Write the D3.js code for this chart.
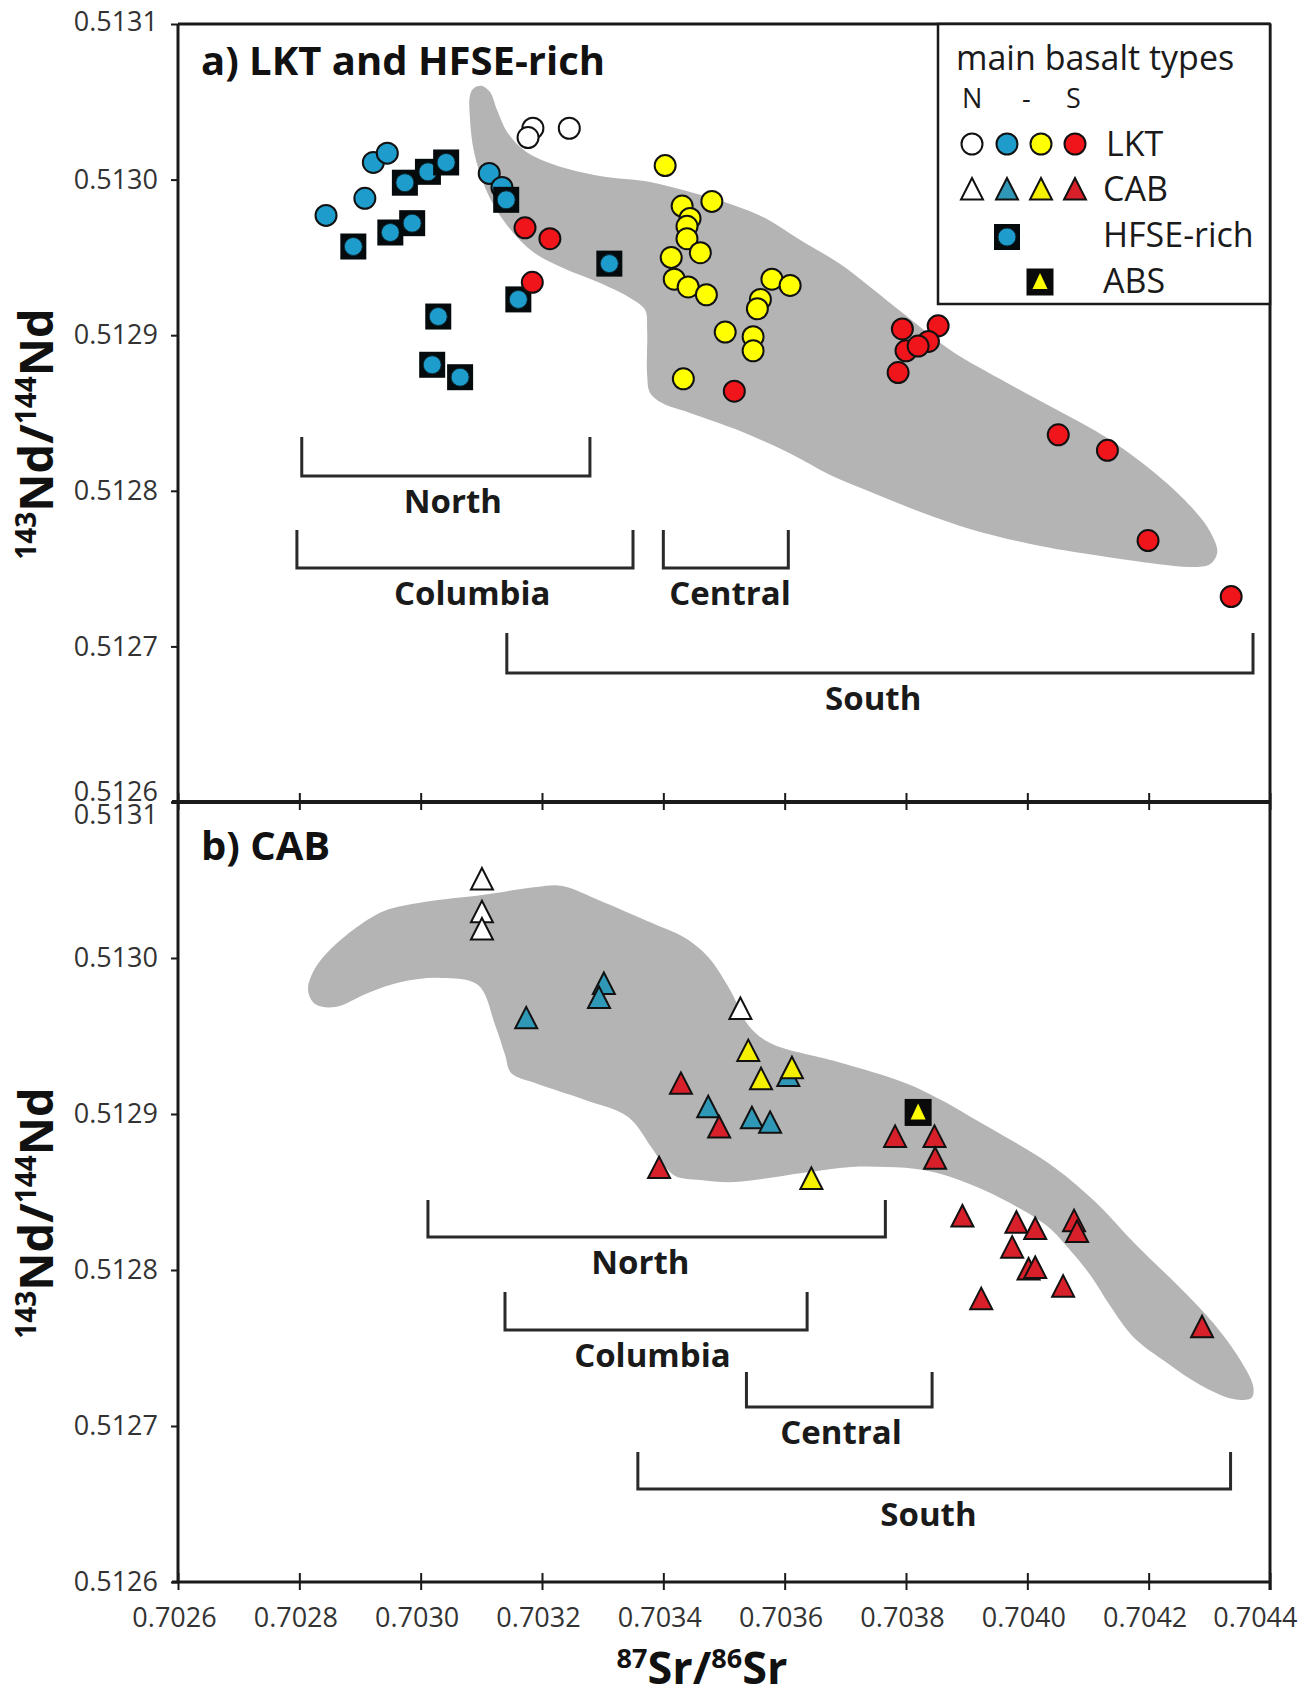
<!DOCTYPE html>
<html><head><meta charset="utf-8">
<script src="https://cdn.jsdelivr.net/npm/d3@7"></script>
<style>html,body{margin:0;padding:0;background:#fff;} svg{display:block;}</style>
</head><body><svg id="c" width="1303" height="1697"></svg>
<script>
// ---------------- DATA ----------------
const xTicks = [0.7026,0.7028,0.7030,0.7032,0.7034,0.7036,0.7038,0.7040,0.7042,0.7044];
const yTicks = [0.5126,0.5127,0.5128,0.5129,0.5130,0.5131];

// Panel a: LKT and HFSE-rich  [87Sr/86Sr, 143Nd/144Nd]
const lktWhite = [[0.703185,0.513033],[0.703177,0.513027],[0.703245,0.513033]];
const lktBlue = [[0.702844,0.512977],[0.702908,0.512988],[0.702922,0.513011],[0.702945,0.513017],[0.703113,0.513004],[0.703134,0.512995]];
const hfseRich = [[0.702889,0.512957],[0.702950,0.512966],[0.702986,0.512972],[0.702974,0.512998],[0.703012,0.513005],[0.703042,0.513011],[0.703141,0.512987],[0.703311,0.512946],[0.703161,0.512923],[0.703029,0.512912],[0.703019,0.512881],[0.703065,0.512873]];
const lktYellow = [[0.703403,0.513009],[0.703431,0.512983],[0.703480,0.512986],[0.703444,0.512975],[0.703439,0.512970],[0.703439,0.512962],[0.703461,0.512953],[0.703413,0.512950],[0.703418,0.512936],[0.703441,0.512931],[0.703471,0.512926],[0.703579,0.512936],[0.703609,0.512932],[0.703560,0.512923],[0.703555,0.512917],[0.703502,0.512902],[0.703548,0.512899],[0.703548,0.512890],[0.703433,0.512872]];
const lktRed = [[0.703172,0.512969],[0.703213,0.512962],[0.703184,0.512934],[0.703517,0.512864],[0.703794,0.512904],[0.703853,0.512906],[0.703837,0.512896],[0.703800,0.512890],[0.703787,0.512876],[0.703820,0.512893],[0.704051,0.512836],[0.704132,0.512826],[0.704199,0.512768],[0.704336,0.512732]];
const fieldA = [[0.7030814,0.5130544],[0.703088,0.5130589],[0.7031012,0.5130602],[0.7031144,0.5130563],[0.703126,0.5130447],[0.7031425,0.5130306],[0.7031721,0.5130184],[0.7032216,0.5130094],[0.7032958,0.5130023],[0.7033782,0.5129985],[0.7034442,0.512992],[0.7035151,0.5129837],[0.7035678,0.5129753],[0.7036256,0.5129612],[0.7036915,0.5129458],[0.703741,0.512931],[0.7037987,0.512913],[0.7038729,0.5128905],[0.7039669,0.5128693],[0.7040493,0.5128519],[0.7041317,0.5128339],[0.7042142,0.5128102],[0.7042719,0.5127889],[0.7043016,0.5127735],[0.7043131,0.5127607],[0.7043016,0.512753],[0.7042719,0.512751],[0.7042142,0.512753],[0.7041317,0.5127575],[0.7040213,0.5127645],[0.7039108,0.5127748],[0.7038284,0.5127857],[0.7037459,0.5127986],[0.703675,0.5128102],[0.7036074,0.5128243],[0.7035266,0.5128384],[0.7034442,0.51285],[0.703398,0.5128564],[0.7033782,0.5128629],[0.7033733,0.5128744],[0.7033733,0.5129033],[0.70337,0.5129162],[0.7033453,0.5129239],[0.7032958,0.5129335],[0.7032348,0.5129432],[0.7031853,0.5129535],[0.7031408,0.5129715],[0.7031078,0.5129933],[0.703088,0.5130177],[0.7030814,0.5130383]];

// Panel b: CAB
const cabWhite = [[0.703101,0.513050],[0.703101,0.513029],[0.703101,0.513018],[0.703527,0.512967]];
const cabBlue = [[0.703174,0.512961],[0.703302,0.512983],[0.703294,0.512974],[0.703474,0.512904],[0.703546,0.512897],[0.703576,0.512894],[0.703606,0.512924]];
const cabYellow = [[0.703540,0.512940],[0.703561,0.512922],[0.703612,0.512929],[0.703644,0.512858]];
const cabRed = [[0.703429,0.512919],[0.703492,0.512891],[0.703393,0.512865],[0.703782,0.512885],[0.703847,0.512885],[0.703848,0.512871],[0.703893,0.512834],[0.703982,0.512830],[0.704013,0.512826],[0.704077,0.512831],[0.704082,0.512824],[0.703975,0.512814],[0.704002,0.512800],[0.704013,0.512801],[0.704059,0.512789],[0.703924,0.512781],[0.704288,0.512763]];
const absPoints = [[0.703820,0.512901]];
const fieldB = [[0.7028143,0.5129795],[0.7028226,0.512991],[0.7028424,0.5130019],[0.7028885,0.5130179],[0.7029397,0.5130301],[0.7030056,0.5130359],[0.7031012,0.5130404],[0.7031903,0.5130455],[0.7032331,0.5130462],[0.7033007,0.5130359],[0.7033733,0.5130237],[0.7034359,0.5130128],[0.7034739,0.5130006],[0.7035101,0.5129795],[0.7035398,0.5129571],[0.7035761,0.5129455],[0.7036882,0.5129333],[0.7037987,0.5129199],[0.703858,0.512909],[0.703924,0.5128942],[0.7040345,0.5128686],[0.7041087,0.5128449],[0.7041828,0.5128147],[0.7042521,0.5127885],[0.7043065,0.512766],[0.704351,0.5127423],[0.7043725,0.512725],[0.7043692,0.5127179],[0.7043395,0.5127173],[0.7042851,0.5127263],[0.7042307,0.5127404],[0.7041746,0.5127571],[0.7041367,0.5127769],[0.7041037,0.5127968],[0.7040674,0.5128141],[0.7040345,0.5128276],[0.7039619,0.5128449],[0.7038877,0.5128577],[0.7038284,0.5128641],[0.703769,0.512866],[0.7037096,0.512866],[0.7036289,0.5128622],[0.7035184,0.5128564],[0.7034607,0.5128577],[0.7034195,0.5128603],[0.7033947,0.5128705],[0.7033799,0.5128788],[0.703342,0.5128981],[0.7032711,0.512909],[0.7031886,0.5129199],[0.7031491,0.5129263],[0.7031392,0.5129378],[0.7031227,0.5129571],[0.7030946,0.5129827],[0.7030336,0.5129872],[0.7029677,0.5129846],[0.7029133,0.5129776],[0.7028589,0.5129686],[0.7028259,0.5129705]];

// Region brackets [label, Sr from, Sr to, Nd top, Nd bottom, Sr of label centre]
const regionsA = [["North",0.702804,0.703279,0.5128346,0.5128095,0.703053],["Columbia",0.702796,0.703350,0.5127748,0.5127504,0.703085],["Central",0.703400,0.703606,0.5127748,0.5127504,0.703510],["South",0.703142,0.704372,0.5127086,0.5126829,0.703746]];
const regionsB = [["North",0.703012,0.703766,0.5128449,0.5128212,0.703362],["Columbia",0.703139,0.703637,0.5127859,0.5127615,0.703382],["Central",0.703537,0.703843,0.5127346,0.5127122,0.703693],["South",0.703358,0.704335,0.5126833,0.5126596,0.703837]];

const panelTitles = ["a) LKT and HFSE-rich","b) CAB"];
const legendTitle = "main basalt types";
const legendNS = ["N","-","S"];
const legendRows = ["LKT","CAB","HFSE-rich","ABS"];

// ---------------- STYLE ----------------
const FONT = "'Open Sans','DejaVu Sans',sans-serif";
const C = {white:"#ffffff", blue:"#1e9dcc", blueT:"#2f98b6", yellow:"#ffff00", yellowT:"#f4f000", red:"#f0141b", redT:"#d7202a", gray:"#b4b4b4", ink:"#111"};

const svg = d3.select("#c");
const x = d3.scaleLinear().domain([0.7026,0.7044]).range([178,1270]);
const yA = d3.scaleLinear().domain([0.5126,0.5131]).range([802,24]);
const yB = d3.scaleLinear().domain([0.5126,0.5131]).range([1582,802]);

// fields
function field(data, y){
  const line = d3.line().x(d=>x(d[0])).y(d=>y(d[1])).curve(d3.curveCatmullRomClosed.alpha(0.5));
  svg.append("path").attr("d", line(data)).attr("fill", C.gray).attr("stroke","none");
}
field(fieldA, yA);
field(fieldB, yB);

// brackets
function brackets(data, y){
  const g = svg.append("g");
  data.forEach(r=>{
    const x0=x(r[1]), x1=x(r[2]), yt=y(r[3]), yb=y(r[4]);
    g.append("path").attr("d",`M${x0},${yt}V${yb}H${x1}V${yt}`).attr("fill","none").attr("stroke","#2a2a2a").attr("stroke-width",3);
    g.append("text").attr("x",x(r[5])).attr("y",yb+37).attr("text-anchor","middle")
      .attr("font-family",FONT).attr("font-weight",700).attr("font-size",33).attr("fill","#1a1a1a").text(r[0]);
  });
}
brackets(regionsA, yA);
brackets(regionsB, yB);

// markers
const triPath = "M0,-12L11,9.5L-11,9.5Z";
function circles(data, y, fill){
  svg.append("g").selectAll("circle").data(data).join("circle")
    .attr("cx",d=>x(d[0])).attr("cy",d=>y(d[1])).attr("r",10.5)
    .attr("fill",fill).attr("stroke",C.ink).attr("stroke-width",2);
}
function triangles(data, y, fill){
  svg.append("g").selectAll("path").data(data).join("path")
    .attr("d",triPath).attr("transform",d=>`translate(${x(d[0])},${y(d[1])})`)
    .attr("fill",fill).attr("stroke",C.ink).attr("stroke-width",2).attr("stroke-linejoin","miter");
}
function hfse(g, cx, cy){
  g.append("rect").attr("x",cx-13).attr("y",cy-13).attr("width",26).attr("height",26).attr("fill","#050a0c");
  g.append("circle").attr("cx",cx).attr("cy",cy).attr("r",9).attr("fill",C.blue).attr("stroke","#0b2a36").attr("stroke-width",1);
}
function abs(g, cx, cy){
  g.append("rect").attr("x",cx-13.5).attr("y",cy-13.5).attr("width",27).attr("height",27).attr("fill","#0a0a0a");
  g.append("path").attr("d","M0,-9L7.5,7L-7.5,7Z").attr("transform",`translate(${cx},${cy})`).attr("fill",C.yellow);
}

circles(lktWhite, yA, C.white);
circles(lktBlue, yA, C.blue);
{ const g = svg.append("g"); hfseRich.forEach(d=>hfse(g, x(d[0]), yA(d[1]))); }
circles(lktYellow, yA, C.yellow);
circles(lktRed, yA, C.red);

triangles(cabWhite, yB, C.white);
triangles(cabBlue, yB, C.blueT);
triangles(cabYellow, yB, C.yellowT);
triangles(cabRed, yB, C.redT);
{ const g = svg.append("g"); absPoints.forEach(d=>abs(g, x(d[0]), yB(d[1]))); }

// frame lines
const [xl, xr] = x.range();
const frame = svg.append("g").attr("stroke","#1a1a1a").attr("fill","none");
frame.append("line").attr("x1",xl).attr("x2",xl).attr("y1",yA.range()[1]).attr("y2",yB.range()[0]).attr("stroke-width",3);
frame.append("line").attr("x1",xr).attr("x2",xr).attr("y1",yA.range()[1]).attr("y2",yB.range()[0]+8).attr("stroke-width",3);
frame.append("line").attr("x1",xl).attr("x2",xr).attr("y1",yA.range()[1]).attr("y2",yA.range()[1]).attr("stroke-width",3);
frame.append("line").attr("x1",xl-6).attr("x2",xr).attr("y1",yA.range()[0]).attr("y2",yA.range()[0]).attr("stroke-width",4);
frame.append("line").attr("x1",xl-6).attr("x2",xr).attr("y1",yB.range()[0]).attr("y2",yB.range()[0]).attr("stroke-width",3);

// y axes
function yAxis(scale, shiftFn){
  const g = svg.append("g").attr("transform",`translate(${xl},0)`)
    .call(d3.axisLeft(scale).tickValues(yTicks).tickSize(7).tickSizeOuter(0).tickPadding(13).tickFormat(d3.format(".4f")));
  g.attr("font-family",FONT).attr("font-size",27);
  g.select(".domain").remove();
  g.selectAll(".tick line").attr("stroke","#1a1a1a").attr("stroke-width",2);
  g.selectAll(".tick text").attr("fill","#333").attr("y",d=>shiftFn(d));
}
yAxis(yA, d=> d===0.5126 ? -10 : (d===0.5131 ? -2 : 0));
yAxis(yB, d=> d===0.5131 ? 13 : 0);

// x axes
function xAxis(yPos, labels){
  const g = svg.append("g").attr("transform",`translate(0,${yPos})`)
    .call(d3.axisBottom(x).tickValues(xTicks).tickSize(8).tickSizeOuter(0).tickPadding(18).tickFormat(labels ? d3.format(".4f") : ()=>""));
  g.attr("font-family",FONT).attr("font-size",27);
  g.select(".domain").remove();
  g.selectAll(".tick line").attr("y1",-9).attr("stroke","#1a1a1a").attr("stroke-width",2);
  g.selectAll(".tick text").attr("fill","#333")
    .attr("x",d=> d===xTicks[xTicks.length-1] ? 27 : -4)
    .attr("text-anchor",d=> d===xTicks[xTicks.length-1] ? "end" : "middle");
}
xAxis(yA.range()[0], false);
xAxis(yB.range()[0], true);

// panel titles
svg.append("text").attr("x",201).attr("y",75).attr("font-family",FONT).attr("font-weight",700).attr("font-size",40).attr("fill","#111").text(panelTitles[0]);
svg.append("text").attr("x",201).attr("y",860).attr("font-family",FONT).attr("font-weight",700).attr("font-size",40).attr("fill","#111").text(panelTitles[1]);

// axis titles
function yTitle(cy){
  const t = svg.append("text").attr("transform",`translate(53,${cy}) rotate(-90)`).attr("text-anchor","middle")
    .attr("font-family",FONT).attr("font-weight",700).attr("font-size",47).attr("fill","#111");
  t.append("tspan").attr("font-size",28).attr("dy",-17).text("143");
  t.append("tspan").attr("dy",17).text("Nd/");
  t.append("tspan").attr("font-size",28).attr("dy",-17).text("144");
  t.append("tspan").attr("dy",17).text("Nd");
}
yTitle(434);
yTitle(1213);
{
  const t = svg.append("text").attr("x",702).attr("y",1684).attr("text-anchor","middle")
    .attr("font-family",FONT).attr("font-weight",700).attr("font-size",45).attr("fill","#111");
  t.append("tspan").attr("font-size",27).attr("dy",-16).text("87");
  t.append("tspan").attr("dy",16).text("Sr/");
  t.append("tspan").attr("font-size",27).attr("dy",-16).text("86");
  t.append("tspan").attr("dy",16).text("Sr");
}

// legend
{
  const L = svg.append("g");
  L.append("rect").attr("x",938).attr("y",24).attr("width",1270-938).attr("height",304-24).attr("fill","#fff").attr("stroke","#1a1a1a").attr("stroke-width",2.5);
  const txt = (xx,yy,s,fs)=>L.append("text").attr("x",xx).attr("y",yy).attr("font-family",FONT).attr("font-size",fs||34).attr("fill","#1a1a1a").text(s);
  txt(956,70,legendTitle);
  [962,1022,1066].forEach((xx,i)=>txt(xx,108,legendNS[i],27));
  const cols = [972,1007,1041,1075];
  const circleFills = [C.white,C.blue,C.yellow,C.red];
  const triFills = [C.white,C.blueT,C.yellowT,C.redT];
  cols.forEach((cx,i)=>{
    L.append("circle").attr("cx",cx).attr("cy",144).attr("r",10.5).attr("fill",circleFills[i]).attr("stroke",C.ink).attr("stroke-width",2);
    L.append("path").attr("d",triPath).attr("transform",`translate(${cx},${190})`).attr("fill",triFills[i]).attr("stroke",C.ink).attr("stroke-width",2);
  });
  hfse(L, 1007, 237);
  abs(L, 1040, 282);
  txt(1106,156,legendRows[0]);
  txt(1103,201,legendRows[1]);
  txt(1103,247,legendRows[2]);
  txt(1103,293,legendRows[3]);
}
</script></body></html>
